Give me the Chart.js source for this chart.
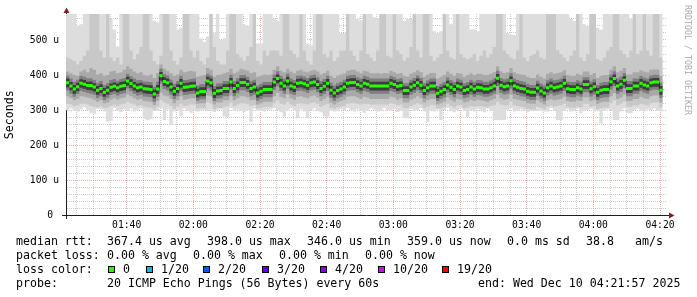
<!DOCTYPE html>
<html>
<head>
<meta charset="utf-8">
<title>SmokePing</title>
<script src="https://cdn.jsdelivr.net/npm/chart.js@4.4.1/dist/chart.umd.min.js"></script>
<style>
html,body{margin:0;padding:0;background:#ffffff;overflow:hidden;}
#wrap{position:relative;width:697px;height:297px;background:#ffffff;}
#c{position:absolute;left:0;top:0;}
.t{position:absolute;font-family:"DejaVu Sans Mono",monospace;font-size:11.6px;line-height:14px;white-space:pre;color:#000;}
.sq{position:absolute;width:5px;height:5px;border:1px solid #000;top:266px;}
#wm{position:absolute;left:693px;top:5px;transform-origin:0 0;transform:rotate(90deg);font-family:"DejaVu Sans Mono",monospace;font-size:8.3px;line-height:10px;white-space:pre;color:#aaaaaa;}
</style>
</head>
<body>
<div id="wrap">
<canvas id="c" width="697" height="297"></canvas>
<div id="wm">RRDTOOL / TOBI OETIKER</div>
<div id="legend"></div>
</div>
<script>
// ---- data (1-minute samples, values in microseconds) ----
const START_MIN = 81.8;          // 01:21:48, minutes after midnight
const SPAN_MIN = 180;
const xTickLabels = ['01:40','02:00','02:20','02:40','03:00','03:20','03:40','04:00','04:20'];
const xTickMinutes = [100,120,140,160,180,200,220,240,260];
const yTickLabels = ['0 ','100 u','200 u','300 u','400 u','500 u'];
const yTickValues = [0,100,200,300,400,500];

const med = [
378,369,360,367,377,374,370,370,366,357,
362,351,357,365,368,364,368,370,383,376,
369,364,366,361,360,359,346,360,398,382,
378,366,354,362,377,365,366,368,369,349,
353,353,383,378,348,355,356,362,362,380,
362,370,379,379,374,362,366,349,354,359,
359,359,380,390,377,369,383,369,365,377,
378,375,371,378,380,373,362,368,377,357,
349,356,360,366,377,379,379,373,369,377,
374,369,369,369,369,369,369,377,373,368,
370,356,356,366,371,378,371,356,364,369,
369,348,354,359,372,365,359,369,366,356,
359,366,360,365,364,360,360,364,369,391,
371,367,369,384,369,365,362,360,354,351,
351,363,355,349,364,369,364,366,369,377,
361,359,359,364,360,373,373,361,367,351,
357,359,359,381,390,369,374,385,362,362,
369,369,377,372,369,378,380,380,357];

const hi1 = [
600,600,600,540,545,600,600,600,600,600,
600,600,600,560,530,480,600,600,600,600,
600,600,600,600,600,600,555,550,600,600,
600,600,600,530,535,600,600,600,600,600,
505,495,510,600,520,600,500,505,600,600,
600,600,600,545,540,600,600,490,490,600,
600,600,560,555,600,600,600,600,600,600,
600,600,490,485,600,600,600,600,600,600,
600,600,520,520,600,600,600,560,555,600,
600,600,565,560,600,600,600,600,600,600,
600,555,560,560,600,600,600,600,600,600,
525,520,525,600,600,545,600,600,600,600,
600,530,530,525,600,600,600,600,600,600,
600,600,520,515,515,600,600,600,600,600,
600,600,600,600,600,600,600,600,600,600,
600,560,555,600,600,545,540,600,600,535,
530,600,600,600,600,600,600,600,600,560,
600,600,600,600,600,600,600,600,600];

const lo1 = [
300,305,298,296,302,308,300,292,290,304,
302,296,267,270,306,298,294,303,298,305,
296,300,304,275,272,274,298,298,306,272,
302,258,296,300,282,305,298,293,300,296,
300,300,298,302,295,300,303,282,280,306,
298,302,298,295,300,266,304,300,298,296,
300,302,306,300,294,281,300,305,298,277,
303,296,277,300,305,298,294,282,280,300,
296,298,303,300,306,300,296,302,298,293,
300,305,302,296,300,306,300,298,303,295,
300,277,277,304,298,300,306,296,267,300,
296,302,272,300,306,298,294,300,305,298,
281,300,296,303,300,294,305,298,272,272,
272,272,300,306,296,300,303,298,294,300,
298,298,300,296,296,306,300,272,272,298,
303,296,300,305,291,298,300,304,296,300,
262,298,303,300,272,272,296,305,291,291,
300,304,298,296,302,300,305,298,296];

const hi2 = [
450,445,440,430,440,455,470,600,600,600,
470,450,600,450,440,450,430,600,600,470,
445,460,480,600,600,470,440,430,455,600,
600,470,440,430,450,600,600,470,450,470,
440,430,450,600,480,440,430,430,470,600,
600,460,450,440,455,480,600,440,430,470,
455,470,470,470,455,600,600,470,460,450,
600,470,440,430,470,600,600,460,450,470,
440,450,470,470,600,470,455,440,470,600,
460,450,440,470,600,600,455,450,600,470,
460,440,450,480,600,470,450,600,600,455,
440,450,460,600,470,450,445,600,460,450,
445,450,460,440,455,470,450,460,480,600,
600,470,460,450,445,470,600,450,440,455,
460,470,450,445,600,600,600,470,460,450,
440,455,470,600,450,440,460,600,600,445,
440,450,470,480,600,600,470,460,450,470,
600,460,470,600,470,455,600,600,450];

const lo2 = [
318,316,311,314,318,318,316,312,310,308,
311,306,308,312,316,312,316,318,324,320,
316,312,314,310,308,308,302,310,328,322,
318,312,304,310,318,312,314,316,316,304,
306,306,322,320,302,306,306,310,311,322,
312,316,320,320,318,312,314,304,306,310,
310,310,320,328,318,316,324,316,312,318,
320,318,316,320,322,318,310,314,318,306,
304,308,310,312,318,320,320,318,316,318,
318,316,316,316,316,316,316,320,318,314,
316,306,306,312,316,320,316,306,310,314,
314,304,306,310,318,312,308,314,314,306,
308,312,310,312,312,310,308,312,314,324,
316,314,314,324,314,312,310,308,304,302,
302,310,306,302,310,314,310,312,314,318,
310,308,308,310,308,318,318,310,312,302,
306,308,308,320,328,314,318,324,310,310,
314,314,318,316,314,320,322,322,308];

const hi3 = [
410,405,400,398,410,415,408,420,415,402,
405,398,400,410,412,405,408,415,425,418,
410,405,408,400,398,402,392,405,430,418,
412,405,398,402,415,408,410,412,410,395,
398,400,420,415,395,400,402,405,408,418,
405,410,418,415,412,405,408,395,398,402,
400,402,415,425,412,408,418,410,405,412,
415,410,408,412,415,410,402,406,412,398,
392,398,402,405,412,415,415,410,405,412,
410,405,405,406,404,406,405,412,408,404,
406,398,396,404,408,414,408,396,402,406,
406,390,395,400,410,404,398,406,404,396,
400,405,400,404,404,400,400,404,408,425,
410,406,408,420,408,404,402,400,395,392,
392,402,395,390,404,408,404,406,408,414,
400,398,398,404,400,410,410,400,406,392,
398,400,400,416,425,408,412,420,402,402,
408,408,414,410,408,415,416,416,398];

const lo3 = [
340,335,328,332,340,338,336,334,330,324,
328,320,322,330,334,330,334,336,345,340,
334,330,332,326,325,324,315,326,350,342,
340,332,320,328,340,330,332,334,334,318,
320,320,342,340,316,322,322,328,328,342,
328,334,340,340,336,328,330,316,320,324,
324,324,340,350,338,334,345,334,330,338,
340,336,334,340,342,336,326,332,338,322,
316,322,326,330,338,340,340,336,332,338,
336,332,332,332,332,332,332,338,336,330,
334,322,322,330,334,340,334,322,328,332,
332,316,320,324,336,330,324,332,330,322,
324,330,326,330,328,326,324,328,332,345,
334,330,332,344,332,330,328,326,320,318,
318,328,322,316,328,332,328,330,332,338,
326,324,324,328,326,336,336,326,330,318,
322,324,324,340,348,332,336,345,326,326,
332,332,338,334,332,340,342,342,322];

const hi5 = [
398,390,381,387,398,395,391,391,386,378,
383,372,377,386,389,384,389,392,404,397,
390,385,386,382,381,380,367,381,418,403,
399,387,375,383,398,386,387,389,390,370,
374,374,404,399,369,376,377,383,383,401,
383,391,400,400,395,383,387,370,375,380,
380,380,401,411,398,390,404,390,386,398,
399,396,392,399,401,394,383,389,398,378,
370,377,381,387,398,400,400,394,390,398,
395,390,390,390,390,390,390,398,394,389,
391,377,377,387,392,399,392,377,385,390,
390,369,375,380,393,386,380,390,387,377,
380,387,381,386,385,381,381,385,390,412,
392,388,390,405,390,386,383,381,375,372,
372,384,376,370,385,390,385,387,390,398,
382,380,380,385,381,394,394,382,388,372,
378,380,380,402,411,390,395,406,383,383,
390,390,398,393,390,399,401,401,378];

const lo5 = [
356,347,338,346,355,352,349,347,344,335,
340,329,335,343,347,342,346,348,362,354,
347,342,344,339,338,337,324,338,376,360,
356,344,332,340,355,343,344,346,347,327,
331,331,361,356,326,333,334,340,340,358,
340,348,357,357,352,340,344,327,332,337,
337,337,358,368,355,347,361,347,343,355,
356,353,349,356,358,351,340,346,355,335,
327,334,338,344,355,357,357,351,347,355,
352,347,347,347,347,347,347,355,351,346,
348,334,334,344,349,356,349,334,342,347,
347,326,332,337,350,343,337,347,344,334,
337,344,338,343,342,338,338,342,347,369,
349,345,347,362,347,343,340,338,332,329,
329,341,333,327,342,347,342,344,347,355,
339,337,337,342,338,351,351,339,345,329,
335,337,337,359,368,347,352,363,340,340,
347,347,355,350,347,356,358,358,335];

const hi4 = [
390,380,372,378,388,386,381,382,377,369,
374,363,368,376,379,376,380,382,395,388,
380,376,378,373,372,371,358,372,409,394,
390,378,366,374,389,377,378,380,381,361,
365,365,395,390,360,367,368,374,374,392,
374,382,391,391,386,374,378,361,366,371,
371,371,392,402,389,381,395,381,377,389,
390,387,383,390,392,385,374,380,389,369,
361,368,372,378,389,391,391,385,381,389,
386,381,381,381,381,381,381,389,385,380,
382,368,368,378,383,390,383,368,376,381,
381,360,366,371,384,377,371,381,378,368,
371,378,372,377,376,372,372,376,381,403,
383,379,381,396,381,377,374,372,366,363,
363,375,367,361,376,381,376,378,381,389,
373,371,371,376,372,385,385,373,379,363,
369,371,371,393,402,381,386,397,374,374,
381,381,389,384,381,390,392,392,369];

const lo4 = [
365,357,347,354,364,361,358,357,353,344,
349,338,344,352,355,351,355,357,370,363,
356,351,353,348,347,346,334,347,384,369,
365,353,341,349,364,352,353,355,356,336,
340,340,370,365,335,342,343,349,349,367,
349,357,366,366,361,349,353,336,341,346,
346,346,367,377,364,356,370,356,352,364,
365,362,358,365,367,360,349,355,364,344,
336,343,347,353,364,366,366,360,356,364,
361,356,356,356,356,356,356,364,360,355,
357,343,343,353,358,365,358,343,351,356,
356,335,341,346,359,352,346,356,353,343,
346,353,347,352,351,347,347,351,356,378,
358,354,356,371,356,352,349,347,341,338,
338,350,342,336,351,356,351,353,356,364,
348,346,346,351,347,360,360,348,354,338,
344,346,346,368,377,356,361,372,349,349,
356,356,364,359,356,365,367,367,344];

// ---- legend text ----
const legendRows = [
  {top:234, items:[['median rtt:',16],['367.4 us avg',107],['398.0 us max',207],['346.0 us min',307],['359.0 us now',407],['0.0 ms sd',507],['38.8',586],['am/s',635]]},
  {top:248, items:[['packet loss:',16],['0.00 % avg',107],['0.00 % max',193],['0.00 % min',279],['0.00 % now',365]]},
  {top:262, items:[['loss color:',16]]},
  {top:276, items:[['probe:',16],['20 ICMP Echo Pings (56 Bytes) every 60s',107],['end: Wed Dec 10 04:21:57 2025',478]]}
];
const lossLabels = ['0','1/20','2/20','3/20','4/20','10/20','19/20'];
const lossColors = ['#26ff00','#00b8ff','#0059ff','#5e00ff','#7e00ff','#dd00ff','#ff0000'];
const lossBoxX = [108,146,203,262,320,378,442];

const lg = document.getElementById('legend');
legendRows.forEach(r => r.items.forEach(([txt,x]) => {
  const d = document.createElement('div'); d.className='t'; d.textContent = txt;
  d.style.left = x+'px'; d.style.top = r.top+'px'; lg.appendChild(d);
}));
lossLabels.forEach((lab,i) => {
  const s = document.createElement('div'); s.className='sq'; s.style.left = lossBoxX[i]+'px'; s.style.background = lossColors[i]; lg.appendChild(s);
  const d = document.createElement('div'); d.className='t'; d.textContent = lab;
  d.style.left = (lossBoxX[i]+15)+'px'; d.style.top='262px'; lg.appendChild(d);
});

// ---- chart ----
function stepPts(arr){ const p = arr.map((v,i)=>({x:START_MIN+i,y:v})); p.push({x:START_MIN+arr.length,y:arr[arr.length-1]}); return p; }
function segPts(arr){ const p=[]; arr.forEach((v,i)=>{ p.push({x:START_MIN+i,y:v},{x:START_MIN+i+1,y:v},{x:START_MIN+i+1,y:null}); }); return p; }

const bands = [[lo1,hi1,'#dddddd'],[lo2,hi2,'#c8c8c8'],[lo3,hi3,'#a9a9a9'],[lo5,hi5,'#7f7f7f'],[lo4,hi4,'#3e3e3e']];
const datasets = [];
bands.forEach(([lo,hi,col],j) => {
  const li = datasets.length;
  datasets.push({data:stepPts(lo), stepped:true, borderWidth:0, borderColor:'rgba(0,0,0,0)', pointRadius:0, fill:false, order:100-2*j});
  datasets.push({data:stepPts(hi), stepped:true, borderWidth:0, borderColor:'rgba(0,0,0,0)', backgroundColor:col, pointRadius:0, fill:li, order:99-2*j});
});
datasets.push({data:stepPts(med), stepped:true, borderWidth:1, borderColor:'#202020', pointRadius:0, fill:false, order:2});
datasets.push({data:segPts(med), borderWidth:3, borderColor:'#26ff00', borderCapStyle:'butt', pointRadius:0, fill:false, spanGaps:false, order:1});

const GRID = 'rgba(143,143,143,0.45)';
const MGRID = 'rgba(222,79,79,0.45)';
const MONO = '"DejaVu Sans Mono", monospace';

const decor = {
  id:'decor',
  afterDraw(chart){
    const {ctx, chartArea:a} = chart;
    ctx.save();
    ctx.strokeStyle = '#1f1f1f'; ctx.lineWidth = 1;
    ctx.beginPath();
    ctx.moveTo(66.5, a.top); ctx.lineTo(66.5, 12);
    ctx.moveTo(66.5, a.bottom); ctx.lineTo(66.5, 219);
    ctx.moveTo(62, 215.5); ctx.lineTo(66, 215.5);
    ctx.moveTo(a.right, 215.5); ctx.lineTo(670, 215.5);
    ctx.stroke();
    ctx.fillStyle = 'rgb(128,31,31)';
    ctx.beginPath(); ctx.moveTo(63.5,13); ctx.lineTo(69.5,13); ctx.lineTo(66.5,7.5); ctx.closePath(); ctx.fill();
    ctx.beginPath(); ctx.moveTo(669,212.5); ctx.lineTo(669,218.5); ctx.lineTo(674.5,215.5); ctx.closePath(); ctx.fill();
    ctx.restore();
  }
};

const xGridVals = []; for (let m = 85; m <= 260; m += 5) xGridVals.push(m);
const yGridVals = []; for (let v = 0; v <= 560; v += 20) yGridVals.push(v);

new Chart(document.getElementById('c'), {
  type:'line',
  data:{datasets},
  options:{
    responsive:false, animation:false, devicePixelRatio:1, events:[],
    layout:{autoPadding:false, padding:{left:0, right:31, top:14, bottom:61.5}},
    plugins:{legend:{display:false}, tooltip:{enabled:false}},
    elements:{line:{tension:0}},
    scales:{
      x:{
        type:'linear', min:START_MIN, max:START_MIN+SPAN_MIN, z:1,
        afterBuildTicks:s => { s.ticks = xGridVals.map(v => ({value:v})); },
        afterFit:s => { s.height = 20; },
        ticks:{autoSkip:false, maxRotation:0, minRotation:0, padding:4, color:'#000',
               font:{family:MONO, size:9.7},
               callback:v => { const i = xTickMinutes.indexOf(v); return i >= 0 ? xTickLabels[i] : ''; }},
        grid:{drawTicks:false, lineWidth:1, color:c => (c.tick && xTickMinutes.includes(c.tick.value)) ? MGRID : GRID},
        border:{display:true, color:'#1f1f1f', width:1, dash:[1,1]}
      },
      y:{
        type:'linear', min:0, max:574, z:1,
        afterBuildTicks:s => { s.ticks = yGridVals.map(v => ({value:v})); },
        afterFit:s => { s.width = 66; },
        ticks:{autoSkip:false, padding:7, color:'#000', font:{family:MONO, size:9.7},
               callback:v => { const i = yTickValues.indexOf(v); return i >= 0 ? yTickLabels[i] : ''; }},
        grid:{drawTicks:false, lineWidth:1, color:c => (c.tick && yTickValues.includes(c.tick.value)) ? MGRID : GRID},
        border:{display:true, color:'#1f1f1f', width:1, dash:[1,1]},
        title:{display:true, text:'Seconds', color:'#000', font:{family:MONO, size:11.6}, padding:{top:3, bottom:0}}
      }
    }
  },
  plugins:[decor]
});
</script>
</body>
</html>
